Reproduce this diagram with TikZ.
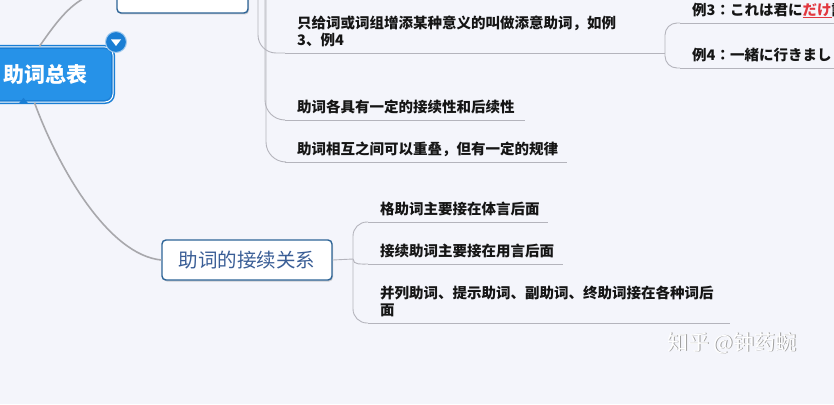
\documentclass[tikz,border=0pt]{standalone}
\usepackage{fontspec}
\newfontfamily\cjk{Noto Sans CJK SC}
\newfontfamily\jpfont{Noto Sans CJK JP}
\usetikzlibrary{shadows,calc}
\definecolor{bg}{HTML}{F4F5FB}
\definecolor{rootfill}{HTML}{2692E8}
\definecolor{rootline}{HTML}{1A7ED4}
\definecolor{topicline}{HTML}{2D6497}
\definecolor{reltext}{HTML}{3A5E96}
\definecolor{txt}{HTML}{151515}
\definecolor{trunkc}{HTML}{A8A8AC}
\definecolor{brc}{HTML}{B4B4BC}
\definecolor{jred}{HTML}{E2373F}
\newcommand\lnstrut{\rule[-3pt]{0pt}{0pt}}
\hfuzz=200pt
\hbadness=10000
\begin{document}
\begin{tikzpicture}[x=1pt,y=-1pt,
  root/.style={rounded corners=8pt, fill=rootfill, draw=rootline, line width=1.5pt,
    double=white, double distance=1pt, minimum width=135pt, minimum height=55pt,
    text=white, font=\cjk\bfseries\fontsize{21}{21}\selectfont},
  topic/.style={draw=topicline, line width=1.4pt, fill=white, rounded corners=4pt,
    drop shadow={shadow xshift=1pt, shadow yshift=-1.5pt, opacity=0.35}},
  leaf/.style={anchor=south west, inner xsep=12pt, inner ysep=4.5pt,
    align=left, text=txt, font=\cjk\bfseries\fontsize{14.5}{16.5}\selectfont},
  exleaf/.style={leaf, font=\jpfont\bfseries\fontsize{14.5}{16.5}\selectfont},
  trunk/.style={draw=trunkc, line width=1.6pt},
  br/.style={draw=brc, line width=0.9pt},
  ul/.style={draw=brc, line width=0.9pt}
]
\clip (0,0) rectangle (834,404);
\fill[bg] (0,0) rectangle (834,404);

% nodes
\node[topic, minimum width=131pt, minimum height=46pt] (top) at (182.5,-10) {};
\node[root] (root) at (45.5,74.5) {助词总表};
\node[circle, fill=rootline, draw=white!60!rootline, line width=1pt, minimum size=21pt, inner sep=0pt] (btn) at (116,42) {};
\fill[white] ($(btn)+(-5,-2.5)$) -- ($(btn)+(5,-2.5)$) -- ($(btn)+(0,4)$) -- cycle;
\fill[rootline] ($(root.south)+(-27,1)$) -- ($(root.south)+(-17,1)$) -- ($(root.south)+(-22,-5)$) -- cycle;

\node[topic, minimum width=170pt, minimum height=40pt, text=reltext,
  font=\cjk\fontsize{19.5}{19.5}\selectfont] (rel) at (247,260) {助词的接续关系};

\node[leaf, text width=331pt] (t1) at (285,53) {只给词或词组增添某种意义的叫做添意助词，如例\\3、例4\lnstrut};
\node[leaf, text width=216pt] (t2) at (285,120) {助词各具有一定的接续性和后续性\lnstrut};
\node[leaf, text width=258pt] (t3) at (285,162) {助词相互之间可以重叠，但有一定的规律\lnstrut};

\node[leaf, text width=156pt] (b1) at (368,222) {格助词主要接在体言后面\lnstrut};
\node[leaf, text width=171pt] (b2) at (368,264) {接续助词主要接在用言后面\lnstrut};
\node[leaf, text width=338pt] (b3) at (368,323) {并列助词、提示助词、副助词、终助词接在各种词后\\面\lnstrut};

\node[exleaf, text width=300pt] (ex3) at (680,23) {例3：これは君に\textcolor{jred}{\underline{だけ}}話します。\lnstrut};
\node[exleaf, text width=300pt] (ex4) at (680,68) {例4：一緒に行きましょう。\lnstrut};

% underlines
\foreach \n in {t1,t2,t3,b1,b2,b3,ex3,ex4}
  \draw[ul] (\n.south west) -- (\n.south east);

% coordinates
\coordinate (jt) at (262,-10);
\coordinate (jb) at (353,259);
\coordinate (je) at (665,53);

% connectors
\draw[trunk] ([xshift=-6pt]root.north) to[out=55,in=180] (top.west);
\coordinate (rs) at ([xshift=-11pt]root.south);
\draw[trunk] (rs) .. controls +(25,68) and +(-52,-5) .. (rel.west);

\draw[br] (top.east) -- (jt);
\draw[br, rounded corners=18pt] ([xshift=-4pt]jt) |- (t1.south west);
\draw[br, rounded corners=20pt] ([xshift=3pt]jt) |- (t2.south west);
\draw[br, rounded corners=20pt] ([xshift=4pt]jt) |- (t3.south west);

\draw[br] (rel.east) -- (jb);
\draw[br, rounded corners=14pt] (jb) |- (b1.south west);
\draw[br] (jb) to[out=-90,in=180] (b2.south west);
\draw[br, rounded corners=14pt] (jb) |- (b3.south west);

\draw[br] (t1.south east) -- (je);
\draw[br, rounded corners=12pt] (je) |- (ex3.south west);
\draw[br, rounded corners=12pt] (je) |- (ex4.south west);

% watermark
\node[text=gray!75, font=\cjk\fontsize{21}{21}\selectfont] (wms) at (732.8,343.8) {知乎 @钟药蜿};
\node[text=white, font=\cjk\fontsize{21}{21}\selectfont] (wm) at (732,343) {知乎 @钟药蜿};
\end{tikzpicture}
\end{document}
